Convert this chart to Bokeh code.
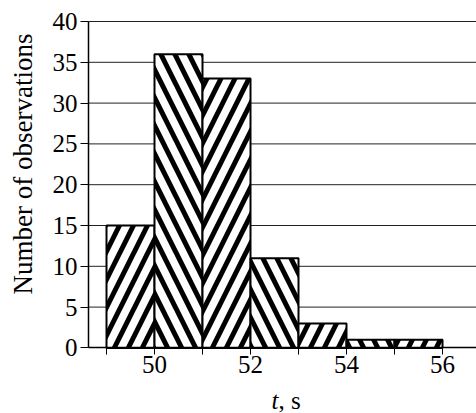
import math
from bokeh.plotting import figure
from bokeh.models import FixedTicker, Range1d, Label, ColumnDataSource
from bokeh.core.properties import field
from bokeh.embed import file_html
from bokeh.resources import INLINE

# ---- data ----
bin_edges = [49, 50, 51, 52, 53, 54, 55, 56]
counts = [15, 36, 33, 11, 3, 1, 1]
y_ticks = [0, 5, 10, 15, 20, 25, 30, 35, 40]
x_major_ticks = [50, 52, 54, 56]
x_minor_ticks = [49, 51, 53, 55]
x_label_var = "t"
x_label_unit = ", s"
y_label = "Number of observations"

FONT = "Liberation Serif"

# ---- layout geometry (pixels) ----
W, H = 476, 413
PLOT_LEFT, PLOT_RIGHT = 88, 476      # axis-box in pixels
PLOT_TOP, PLOT_BOTTOM = 21, 347.4
X_LO = 48.625                        # data value at the y axis
PX_PER_X = 48.0
Y_LO, Y_HI = 0, 40
PX_PER_Y = (PLOT_BOTTOM - PLOT_TOP) / (Y_HI - Y_LO)

x_start = X_LO - PLOT_LEFT / PX_PER_X
x_end = X_LO + (W - PLOT_LEFT) / PX_PER_X
x_axis_end = X_LO + (PLOT_RIGHT - PLOT_LEFT) / PX_PER_X
y_start = Y_LO - (H - PLOT_BOTTOM) / PX_PER_Y
y_end = Y_HI + PLOT_TOP / PX_PER_Y

patterns = ["/" if i % 2 == 0 else "\\" for i in range(len(counts))]
src = ColumnDataSource(dict(
    left=bin_edges[:-1], right=bin_edges[1:], top=counts,
    bottom=[0] * len(counts), pat=patterns))

p = figure(width=W, height=H, output_backend="svg", toolbar_location=None,
           x_range=Range1d(x_start, x_end), y_range=Range1d(y_start, y_end),
           min_border=0)
p.outline_line_color = None
p.background_fill_color = "white"
p.border_fill_color = "white"

# grid lines (only across the axis box)
p.xgrid.visible = False
p.ygrid.visible = False
grid_y = y_ticks[1:]
p.segment(x0=[X_LO] * len(grid_y), x1=[x_axis_end] * len(grid_y),
          y0=grid_y, y1=grid_y, line_color="#222222", line_width=1)

p.quad(left="left", right="right", top="top", bottom="bottom", source=src,
       fill_color="white", line_color="black", line_width=2,
       hatch_pattern=field("pat"), hatch_color="black",
       hatch_scale=28, hatch_weight=5)

# y axis
ya = p.yaxis[0]
ya.fixed_location = X_LO
ya.bounds = (Y_LO, Y_HI)
ya.ticker = FixedTicker(ticks=y_ticks)
ya.major_label_text_font = FONT
ya.major_label_text_font_size = "25px"
ya.major_label_text_color = "black"
ya.major_label_standoff = 3
ya.major_tick_out = 8
ya.major_tick_in = 0
ya.minor_tick_line_color = None
ya.axis_line_width = 1.5
ya.axis_line_color = "black"
ya.major_tick_line_color = "black"

# x axis
xa = p.xaxis[0]
xa.fixed_location = Y_LO
xa.bounds = (X_LO, x_axis_end)
xa.ticker = FixedTicker(ticks=x_major_ticks, minor_ticks=x_minor_ticks)
xa.major_label_text_font = FONT
xa.major_label_text_font_size = "25px"
xa.major_label_text_color = "black"
xa.major_label_standoff = 1
xa.major_tick_out = 7
xa.major_tick_in = 0
xa.minor_tick_out = 7
xa.minor_tick_in = 0
xa.minor_tick_line_color = "black"
xa.major_tick_line_color = "black"
xa.axis_line_width = 1.5
xa.axis_line_color = "black"

# axis titles (screen units from bottom-left of the canvas-sized frame)
lab_t = Label(x=271, y=H - 400, x_units="screen", y_units="screen", text=x_label_var,
              text_font=FONT, text_font_style="italic", text_font_size="25px",
              text_baseline="middle", text_align="left", text_color="black")
lab_s = Label(x=278, y=H - 400, x_units="screen", y_units="screen", text=x_label_unit,
              text_font=FONT, text_font_size="25px",
              text_baseline="middle", text_align="left", text_color="black")
lab_y = Label(x=22, y=H - 163.5, x_units="screen", y_units="screen", text=y_label,
              text_font=FONT, text_font_size="27px", angle=math.pi / 2,
              text_baseline="middle", text_align="center", text_color="black")
p.add_layout(lab_t)
p.add_layout(lab_s)
p.add_layout(lab_y)

open("out.html", "w").write(file_html(p, INLINE))
